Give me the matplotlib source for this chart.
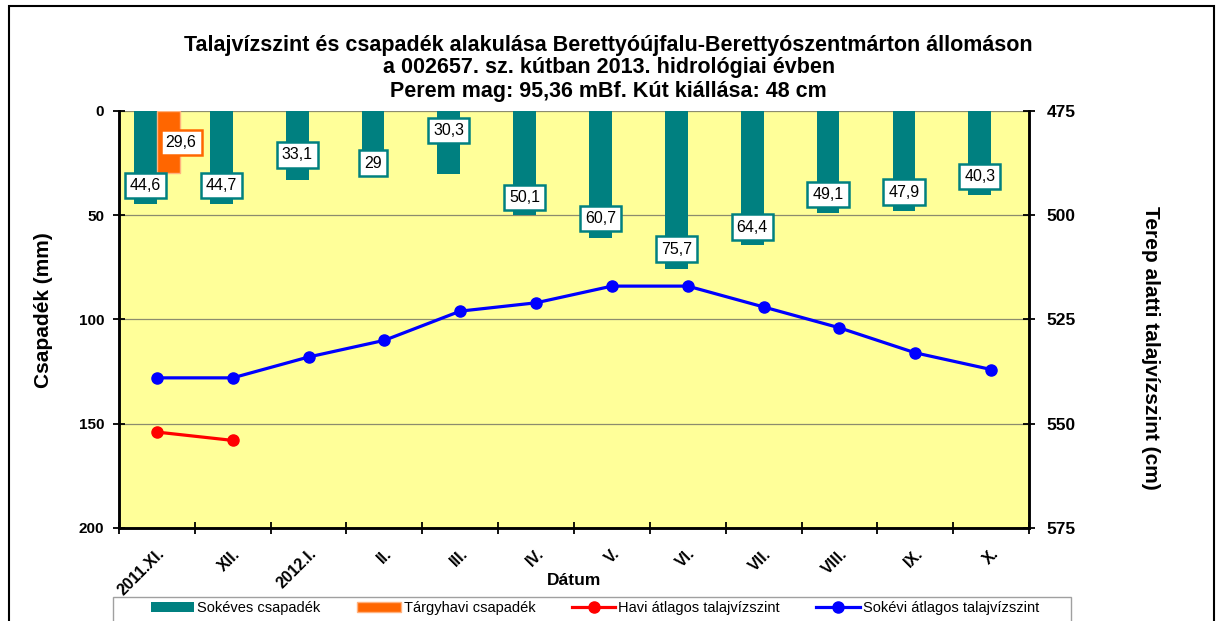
import matplotlib
matplotlib.use('Agg')
import matplotlib.pyplot as plt
import numpy as np
from matplotlib.patches import Rectangle

plt.rcParams['font.family'] = ['Liberation Sans', 'DejaVu Sans']

months = ['2011.XI.', 'XII.', '2012.I.', 'II.', 'III.', 'IV.', 'V.', 'VI.', 'VII.', 'VIII.', 'IX.', 'X.']
sokeves_csap = [44.6, 44.7, 33.1, 29.0, 30.3, 50.1, 60.7, 75.7, 64.4, 49.1, 47.9, 40.3]
targyhavi_csap = [29.6]
havi_talajviz = [552, 554]
sokevi_talajviz = [539, 539, 534, 530, 523, 521, 517, 517, 522, 527, 533, 537]

# label lift above the bar end (mm), as Excel placed them
lab_lift = [8.7, 9, 12, 4, 21, 8.7, 9, 9.5, 8.7, 9, 9, 9]
lab_lift_orange = 14.5

TEAL = '#008080'
ORANGE = '#FF6600'

fig = plt.figure(figsize=(12.2, 6.21), dpi=100)
fig.patches.append(Rectangle((0.007, -0.05), 0.988, 1.04, transform=fig.transFigure,
                             fill=False, edgecolor='black', linewidth=1.5, zorder=0))
ax = fig.add_axes([0.0975, 0.1498, 0.746, 0.6715])
ax.set_facecolor('#FFFF99')
x = np.arange(len(months))
w = 0.3
ax.bar(x - w / 2, sokeves_csap, width=w, color=TEAL, zorder=2, label='Sokéves csapadék')
xo = x[:len(targyhavi_csap)]
ax.bar(xo + w / 2, targyhavi_csap, width=w, color=ORANGE, edgecolor='#FFB27F', linewidth=1, zorder=2,
       label='Tárgyhavi csapadék')
ax.set_ylim(200, 0)
ax.set_xlim(-0.5, len(months) - 0.5)
ax.set_yticks([0, 50, 100, 150, 200])
ax.grid(axis='y', color='#8C8C6E', linewidth=0.9, zorder=1)
ax.set_axisbelow(True)
for xi, v, d in zip(x, sokeves_csap, lab_lift):
    ax.text(xi - w / 2, v - d, f'{v:g}'.replace('.', ','), ha='center', va='center', fontsize=11.5, zorder=5,
            bbox=dict(boxstyle='square,pad=0.32', facecolor='white', edgecolor=TEAL, linewidth=1.8))
for xi, v in zip(xo, targyhavi_csap):
    ax.text(xi + w / 2 + 0.17, v - lab_lift_orange, f'{v:g}'.replace('.', ','), ha='center', va='center',
            fontsize=11.5, zorder=5,
            bbox=dict(boxstyle='square,pad=0.32', facecolor='white', edgecolor=ORANGE, linewidth=1.8))
ax.set_xticks(np.arange(len(months) + 1) - 0.5)
ax.set_xticklabels([])
ax.set_xticks(x, minor=True)
ax.set_xticklabels(months, minor=True, rotation=45, ha='right', rotation_mode='anchor', fontweight='bold',
                   fontsize=11.5)
ax.tick_params(axis='x', which='minor', length=0, pad=13)
ax.tick_params(axis='x', which='major', direction='inout', length=9, width=1.3)
ax.tick_params(axis='y', direction='inout', length=9, width=1.3, labelsize=11, pad=6)
for t in ax.get_yticklabels():
    t.set_fontweight('bold')
ax.set_ylabel('Csapadék (mm)', fontsize=15, fontweight='bold')
ax.yaxis.set_label_coords(-0.083, 0.523)
ax.yaxis.label.set(ha='center', va='center')
ax.text(0.5, -0.125, 'Dátum', transform=ax.transAxes, ha='center', va='center', fontsize=12.5, fontweight='bold')
for s in ax.spines.values():
    s.set_linewidth(1.8)
ax.spines['top'].set_visible(False)

ax2 = ax.twinx()
ax2.plot(x[:len(havi_talajviz)], havi_talajviz, color='#FF0000', linewidth=2.3, marker='o', markersize=8,
         zorder=4, label='Havi átlagos talajvízszint')
ax2.plot(x, sokevi_talajviz, color='#0000FF', linewidth=2.3, marker='o', markersize=8, zorder=4,
         label='Sokévi átlagos talajvízszint')
ax2.set_ylim(575, 475)
ax2.set_yticks([475, 500, 525, 550, 575])
ax2.tick_params(axis='y', direction='inout', length=9, width=1.3, labelsize=12.5, pad=8)
for t in ax2.get_yticklabels():
    t.set_fontweight('bold')
ax2.set_ylabel('Terep alatti talajvízszint (cm)', fontsize=15, fontweight='bold', rotation=-90)
ax2.yaxis.set_label_coords(1.133, 0.432)
ax2.yaxis.label.set(ha='center', va='center')
for s in ax2.spines.values():
    s.set_linewidth(1.8)
ax2.spines['top'].set_visible(False)

title_lines = ['Talajvízszint és csapadék alakulása Berettyóújfalu-Berettyószentmárton állomáson',
               'a 002657. sz. kútban 2013. hidrológiai évben',
               'Perem mag: 95,36 mBf. Kút kiállása: 48 cm']
for ty, line in zip([45, 68, 91], title_lines):
    fig.text(0.499, 1 - ty / 621, line, ha='center', va='center', fontsize=15.5, fontweight='bold')

# legend frame drawn separately, entries centred inside it
fig.patches.append(Rectangle((113 / 1220, -0.01), 958 / 1220, 0.0486, transform=fig.transFigure,
                             fill=False, edgecolor='#A0A0A0', linewidth=1, zorder=1))
h1, l1 = ax.get_legend_handles_labels()
h2, l2 = ax2.get_legend_handles_labels()
leg = fig.legend(h1 + h2, l1 + l2, loc='center', bbox_to_anchor=(595 / 1220, 1 - 608 / 621),
                 ncol=4, fontsize=10.5, frameon=False, handlelength=3.0, handletextpad=0.2,
                 columnspacing=2.5, borderaxespad=0, borderpad=0)

fig.savefig('out.png', dpi=100)
